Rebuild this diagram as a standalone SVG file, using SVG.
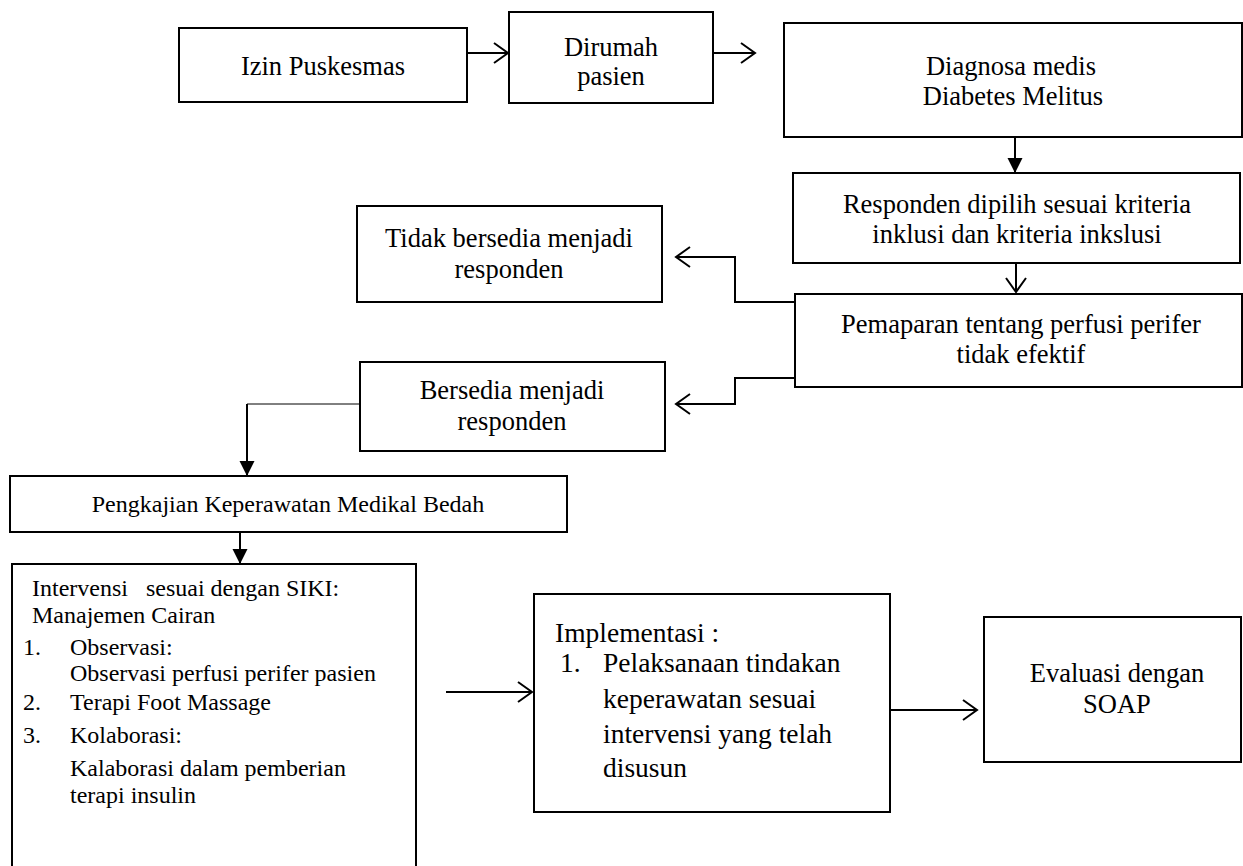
<svg xmlns="http://www.w3.org/2000/svg" width="1243" height="866" viewBox="0 0 1243 866">
<style>
.box{fill:#fff;stroke:#000;stroke-width:2}
.t{font-family:"Liberation Serif","Times New Roman",serif;font-size:26.5px;fill:#000}
.i{font-family:"Liberation Serif","Times New Roman",serif;font-size:27.5px;fill:#000}
.s{font-family:"Liberation Serif","Times New Roman",serif;font-size:24px;fill:#000;white-space:pre}
.c{text-anchor:middle}
.ln{fill:none;stroke:#000;stroke-width:2}
.thin{fill:none;stroke:#000;stroke-width:1}
</style>
<defs>
<marker id="open" markerUnits="userSpaceOnUse" markerWidth="18" markerHeight="24" refX="14" refY="10" orient="auto" overflow="visible">
<path d="M0,0 L14,10 L0,20" fill="none" stroke="#000" stroke-width="2"/>
</marker>
<marker id="fill" markerUnits="userSpaceOnUse" markerWidth="16" markerHeight="16" refX="15" refY="7.5" orient="auto" overflow="visible">
<path d="M0,0 L15,7.5 L0,15 Z" fill="#000"/>
</marker>
</defs>
<rect width="1243" height="866" fill="#fff"/>
<g id="izin"><rect class="box" x="179" y="28" width="288" height="74"/><text class="t c" x="323" y="75">Izin Puskesmas</text></g>
<g id="dirumah"><rect class="box" x="509" y="12" width="204" height="91"/><text class="t c" x="611" y="56">Dirumah</text><text class="t c" x="611" y="85">pasien</text></g>
<g id="diagnosa"><rect class="box" x="784" y="23" width="458" height="114"/><text class="t c" x="1011" y="75">Diagnosa medis</text><text class="t c" x="1013" y="105">Diabetes Melitus</text></g>
<g id="responden"><rect class="box" x="793" y="173" width="447" height="90"/><text class="t c" x="1017" y="213">Responden dipilih sesuai kriteria</text><text class="t c" x="1017" y="243">inklusi dan kriteria inkslusi</text></g>
<g id="pemaparan"><rect class="box" x="795" y="294" width="447" height="93"/><text class="t c" x="1021" y="333">Pemaparan tentang perfusi perifer</text><text class="t c" x="1021" y="363">tidak efektif</text></g>
<g id="tidak"><rect class="box" x="357" y="206" width="305" height="96"/><text class="t c" x="509" y="247">Tidak bersedia menjadi</text><text class="t c" x="509" y="278">responden</text></g>
<g id="bersedia"><rect class="box" x="360" y="362" width="305" height="89"/><text class="t c" x="512" y="399">Bersedia menjadi</text><text class="t c" x="512" y="430">responden</text></g>
<g id="pengkajian"><rect class="box" x="10" y="476" width="557" height="56"/><text class="s c" x="288" y="512">Pengkajian Keperawatan Medikal Bedah</text></g>
<g id="intervensi"><rect class="box" x="12" y="564" width="404" height="330"/>
<text class="s" x="32" y="596">Intervensi   sesuai dengan SIKI:</text>
<text class="s" x="32" y="623">Manajemen Cairan</text>
<text class="s" x="23" y="655">1.</text><text class="s" x="70" y="655">Observasi:</text>
<text class="s" x="70" y="681">Observasi perfusi perifer pasien</text>
<text class="s" x="23" y="710">2.</text><text class="s" x="70" y="710">Terapi Foot Massage</text>
<text class="s" x="23" y="743">3.</text><text class="s" x="70" y="743">Kolaborasi:</text>
<text class="s" x="70" y="776">Kalaborasi dalam pemberian</text>
<text class="s" x="70" y="803">terapi insulin</text>
</g>
<g id="implementasi"><rect class="box" x="534" y="594" width="356" height="218"/>
<text class="i" x="555" y="642">Implementasi :</text>
<text class="i" x="560" y="672">1.</text><text class="i" x="603" y="672">Pelaksanaan tindakan</text>
<text class="i" x="603" y="708">keperawatan sesuai</text>
<text class="i" x="603" y="743">intervensi yang telah</text>
<text class="i" x="603" y="777">disusun</text>
</g>
<g id="evaluasi"><rect class="box" x="984" y="617" width="257" height="145"/><text class="t c" x="1117" y="682">Evaluasi dengan</text><text class="t c" x="1117" y="713">SOAP</text></g>
<g id="connectors">
<line class="ln" x1="467" y1="53" x2="508" y2="53" marker-end="url(#open)"/>
<line class="ln" x1="713" y1="53" x2="755" y2="53" marker-end="url(#open)"/>
<line class="ln" x1="1015" y1="137" x2="1015" y2="173" marker-end="url(#fill)"/>
<line class="ln" x1="1016" y1="263" x2="1016" y2="292" marker-end="url(#open)"/>
<polyline class="ln" points="795,302 735,302 735,257 676,257" marker-end="url(#open)"/>
<polyline class="ln" points="795,378 735,378 735,404 676,404" marker-end="url(#open)"/>
<line class="thin" x1="360" y1="404" x2="247" y2="404"/>
<line class="ln" x1="247" y1="404" x2="247" y2="476" marker-end="url(#fill)"/>
<line class="ln" x1="240" y1="532" x2="240" y2="564" marker-end="url(#fill)"/>
<line class="ln" x1="446" y1="692" x2="532" y2="692" marker-end="url(#open)"/>
<line class="ln" x1="890" y1="710" x2="977" y2="710" marker-end="url(#open)"/>
</g>
</svg>
